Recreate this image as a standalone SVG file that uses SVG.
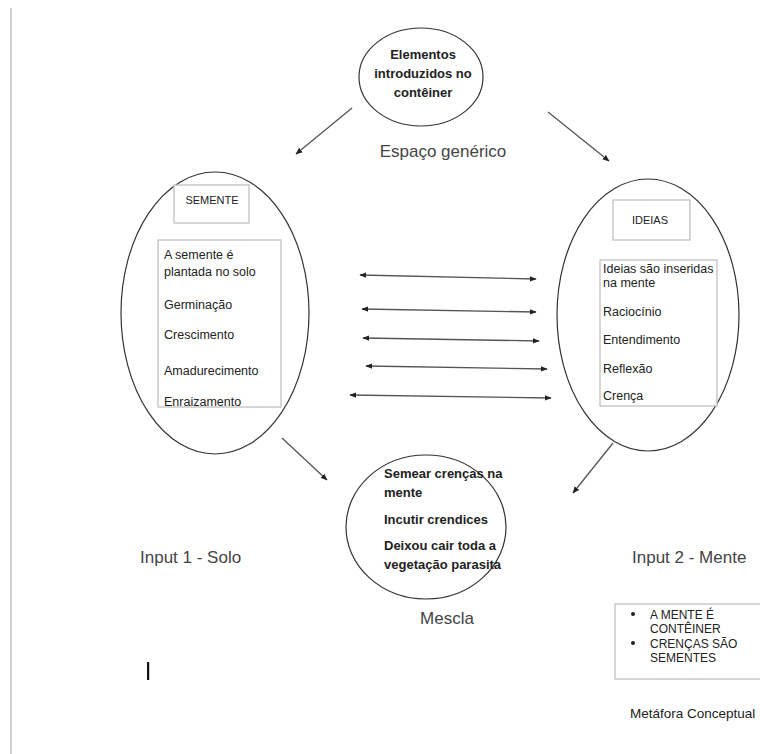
<svg xmlns="http://www.w3.org/2000/svg" width="760" height="754" viewBox="0 0 760 754">
<defs>
<marker id="ah" viewBox="0 0 10 10" refX="9" refY="5" markerWidth="7" markerHeight="7" orient="auto-start-reverse" markerUnits="userSpaceOnUse">
<path d="M0,1 L10,5 L0,9 z" fill="#222"/>
</marker>
<style>
.ell{fill:#fff;stroke:#333;stroke-width:1.2}
.box{fill:#fff;stroke:#bbb;stroke-width:1.2}
.t{font-family:"Liberation Sans",Arial,sans-serif;fill:#222}
.b{font-weight:bold;font-size:13px}
.s{font-size:12.5px}
.lab{font-size:17px;fill:#444}
.c{stroke:#555;stroke-width:1.3;fill:none;marker-end:url(#ah)}
.d{stroke:#555;stroke-width:1.3;fill:none;marker-end:url(#ah);marker-start:url(#ah)}
</style>
</defs>
<rect width="760" height="754" fill="#fff"/>
<line x1="11" y1="8" x2="11" y2="754" stroke="#d0d0d0" stroke-width="2"/>

<g id="generic">
<ellipse class="ell" cx="421" cy="77" rx="62" ry="49"/>
<text class="t b" text-anchor="middle" x="423" y="59">Elementos</text>
<text class="t b" text-anchor="middle" x="423" y="78">introduzidos no</text>
<text class="t b" text-anchor="middle" x="423" y="97">contêiner</text>
<text class="t lab" text-anchor="middle" x="443" y="157" font-size="15.5">Espaço genérico</text>
</g>

<g id="input1">
<ellipse class="ell" cx="215" cy="313" rx="94" ry="141"/>
<rect class="box" x="174" y="185" width="75" height="38"/>
<text class="t" text-anchor="middle" x="212" y="204" font-size="11">SEMENTE</text>
<rect class="box" x="158" y="240" width="123" height="167"/>
<text class="t s" x="164" y="259">A semente é</text>
<text class="t s" x="164" y="276">plantada no solo</text>
<text class="t s" x="164" y="309">Germinação</text>
<text class="t s" x="164" y="339">Crescimento</text>
<text class="t s" x="164" y="375">Amadurecimento</text>
<text class="t s" x="164" y="406">Enraizamento</text>
<text class="t lab" x="140" y="563">Input 1 - Solo</text>
</g>

<g id="input2">
<ellipse class="ell" cx="648" cy="315" rx="91" ry="136"/>
<rect class="box" x="613" y="200" width="77" height="40"/>
<text class="t" text-anchor="middle" x="650" y="224" font-size="11">IDEIAS</text>
<rect class="box" x="600" y="260" width="117" height="146"/>
<text class="t s" x="603" y="273">Ideias são inseridas</text>
<text class="t s" x="603" y="287">na mente</text>
<text class="t s" x="603" y="316">Raciocínio</text>
<text class="t s" x="603" y="344">Entendimento</text>
<text class="t s" x="603" y="373">Reflexão</text>
<text class="t s" x="603" y="400">Crença</text>
<text class="t lab" x="632" y="563">Input 2 - Mente</text>
</g>

<g id="blend">
<ellipse class="ell" cx="426" cy="527" rx="80" ry="72"/>
<text class="t b" x="384" y="478">Semear crenças na</text>
<text class="t b" x="384" y="497">mente</text>
<text class="t b" x="384" y="524">Incutir crendices</text>
<text class="t b" x="384" y="550">Deixou cair toda a</text>
<text class="t b" x="384" y="569">vegetação parasita</text>
<text class="t lab" text-anchor="middle" x="447" y="624" font-size="15">Mescla</text>
</g>

<g id="metaphor">
<rect class="box" x="615" y="604" width="150" height="75"/>
<circle cx="633" cy="614" r="2" fill="#222"/>
<circle cx="633" cy="643" r="2" fill="#222"/>
<text class="t" x="650" y="619" font-size="12">A MENTE É</text>
<text class="t" x="650" y="633" font-size="12">CONTÊINER</text>
<text class="t" x="650" y="648" font-size="12">CRENÇAS SÃO</text>
<text class="t" x="650" y="662" font-size="12">SEMENTES</text>
<text class="t" x="630" y="718" font-size="13.5" fill="#444">Metáfora Conceptual</text>
</g>

<rect x="147" y="662" width="2.2" height="18" fill="#111"/>

<g id="connectors">
<line class="c" x1="352" y1="108" x2="296" y2="154"/>
<line class="c" x1="548" y1="112" x2="609" y2="161"/>
<line class="c" x1="282" y1="438" x2="327" y2="480"/>
<line class="c" x1="613" y1="443" x2="573" y2="493"/>
<line class="d" x1="360" y1="275" x2="536" y2="279"/>
<line class="d" x1="362" y1="309" x2="536" y2="312"/>
<line class="d" x1="363" y1="338" x2="539" y2="341"/>
<line class="d" x1="366" y1="366" x2="547" y2="369"/>
<line class="d" x1="350" y1="395" x2="551" y2="398"/>
</g>
</svg>
